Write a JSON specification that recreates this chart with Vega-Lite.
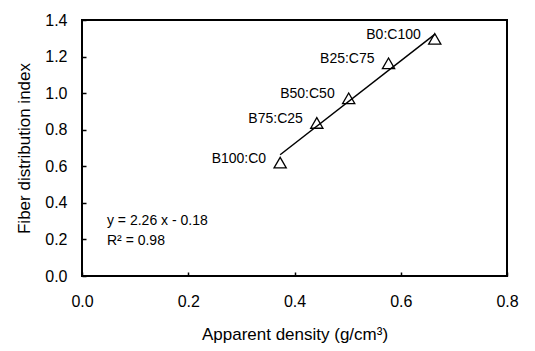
{
  "$schema": "https://vega.github.io/schema/vega-lite/v6.json",
  "autosize": "none",
  "width": 425,
  "height": 256,
  "padding": {"left": 82, "top": 20, "right": 28, "bottom": 75},
  "background": "white",
  "config": {
    "font": "Liberation Sans",
    "view": {"stroke": "black", "strokeWidth": 2},
    "axis": {"grid": false, "domain": false, "tickColor": "black", "tickSize": -4, "tickWidth": 1.5, "labelColor": "black", "titleColor": "black", "labelFontSize": 16, "titleFontSize": 17, "titleFontWeight": "normal", "labelFont": "Liberation Sans", "titleFont": "Liberation Sans", "labelOverlap": false, "labelFlush": false}
  },
  "datasets": {
    "pts": [
      {"density": 0.373, "fdi": 0.62, "label": "B100:C0"},
      {"density": 0.442, "fdi": 0.837, "label": "B75:C25"},
      {"density": 0.502, "fdi": 0.972, "label": "B50:C50"},
      {"density": 0.577, "fdi": 1.163, "label": "B25:C75"},
      {"density": 0.664, "fdi": 1.297, "label": "B0:C100"}
    ],
    "fit": [
      {"density": 0.373, "fdi": 0.663},
      {"density": 0.664, "fdi": 1.321}
    ],
    "eq": [
      {"density": 0.047, "fdi": 0.30, "text": "y = 2.26 x - 0.18"},
      {"density": 0.047, "fdi": 0.19, "text": "R² = 0.98"}
    ]
  },
  "encoding": {
    "x": {"field": "density", "type": "quantitative", "scale": {"domain": [0, 0.8]}, "axis": {"title": "Apparent density (g/cm³)", "values": [0, 0.2, 0.4, 0.6, 0.8], "format": ".1f", "labelPadding": 21, "titlePadding": 17}},
    "y": {"field": "fdi", "type": "quantitative", "scale": {"domain": [0, 1.4]}, "axis": {"title": "Fiber distribution index", "values": [0, 0.2, 0.4, 0.6, 0.8, 1.0, 1.2, 1.4], "format": ".1f", "labelPadding": 19, "titlePadding": 11}}
  },
  "layer": [
    {
      "data": {"name": "fit"},
      "mark": {"type": "line", "color": "black", "strokeWidth": 1.5}
    },
    {
      "data": {"name": "pts"},
      "mark": {"type": "point", "shape": "triangle-up", "filled": false, "color": "black", "size": 150, "strokeWidth": 1.3, "opacity": 1}
    },
    {
      "data": {"name": "pts"},
      "mark": {"type": "text", "align": "right", "baseline": "middle", "dx": -14, "dy": -4, "fontSize": 14, "color": "black"},
      "encoding": {"text": {"field": "label"}}
    },
    {
      "data": {"name": "eq"},
      "mark": {"type": "text", "align": "left", "baseline": "middle", "fontSize": 14, "color": "black"},
      "encoding": {"text": {"field": "text"}}
    }
  ]
}
